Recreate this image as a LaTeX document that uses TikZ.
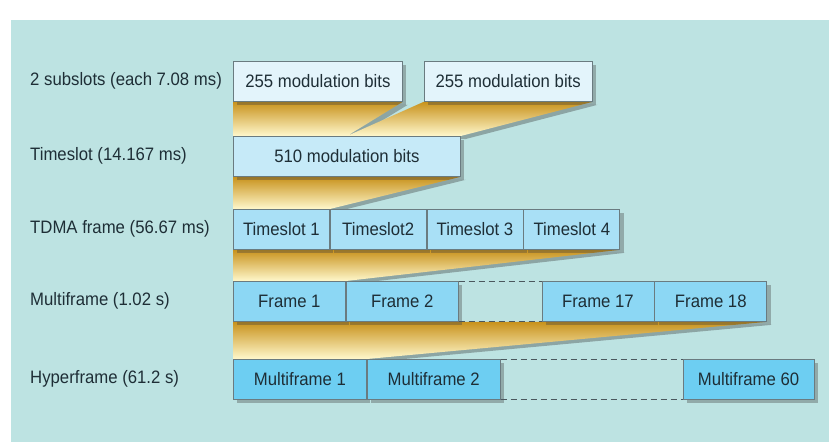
\documentclass[tikz,border=0pt]{standalone}
\usepackage{fontspec}
\setmainfont{Liberation Sans}[FakeStretch=0.93]
\usetikzlibrary{positioning, shadows, calc}
\definecolor{bg}{HTML}{BDE3E2}
\definecolor{edge}{HTML}{6A7B80}
\definecolor{ink}{HTML}{1E2E36}
\definecolor{rowa}{HTML}{E3F4FB}
\definecolor{rowb}{HTML}{C6EAF8}
\definecolor{rowc}{HTML}{A9E0F6}
\definecolor{rowd}{HTML}{8CD7F4}
\definecolor{rowe}{HTML}{6DCEF2}
\definecolor{golda}{HTML}{C8921C}
\definecolor{goldb}{HTML}{FFCC38}
\definecolor{goldc}{HTML}{FFF8CC}
\pgfdeclarelayer{background}
\pgfsetlayers{background,main}
\tikzstyle{block} = [draw=edge, line width=0.8pt, rectangle, inner sep=0pt, minimum height=40pt, text=ink, drop shadow={shadow xshift=4pt, shadow yshift=-4pt, opacity=0.35, fill=black!75}]
\tikzstyle{lbl} = [anchor=west, inner sep=0pt, text=ink]
\tikzstyle{fan} = [top color=golda, middle color=goldb, bottom color=goldc, drop shadow={shadow xshift=5pt, shadow yshift=-3pt, opacity=0.35, fill=black!80}]
\tikzstyle{gap} = [draw=ink!80, line width=0.8pt, dash pattern=on 6pt off 4pt]

\begin{document}
\begin{tikzpicture}[x=1pt, y=-1pt, font=\fontsize{18}{20}\selectfont]
    \useasboundingbox (0,0) rectangle (829,442);
    \node[lbl] (l1) at (30,81) {2 subslots (each 7.08 ms)};
    \node[lbl] (l2) at (30,156) {Timeslot (14.167 ms)};
    \node[lbl] (l3) at (30,229) {TDMA frame (56.67 ms)};
    \node[lbl] (l4) at (30,301) {Multiframe (1.02 s)};
    \node[lbl] (l5) at (30,379) {Hyperframe (61.2 s)};
    \node[block, anchor=north west, fill=rowa, minimum width=169pt] (sub1) at (233,61) {255 modulation bits};
    \node[block, fill=rowa, minimum width=168pt, right=21pt of sub1] (sub2) {255 modulation bits};
    \node[block, anchor=north west, fill=rowb, minimum width=227pt] (slot) at (233,136) {510 modulation bits};
    \node[block, anchor=north west, fill=rowc, minimum width=96pt] (ts1) at (233,209) {Timeslot 1};
    \node[block, fill=rowc, minimum width=96pt, right=0pt of ts1] (ts2) {Timeslot2};
    \node[block, fill=rowc, minimum width=96pt, right=0pt of ts2] (ts3) {Timeslot 3};
    \node[block, fill=rowc, minimum width=96pt, right=0pt of ts3] (ts4) {Timeslot 4};
    \node[block, anchor=north west, fill=rowd, minimum width=112pt] (fr1) at (233,281) {Frame 1};
    \node[block, fill=rowd, minimum width=112pt, right=0pt of fr1] (fr2) {Frame 2};
    \node[block, fill=rowd, minimum width=112pt, right=83pt of fr2] (fr17) {Frame 17};
    \node[block, fill=rowd, minimum width=112pt, right=0pt of fr17] (fr18) {Frame 18};
    \node[block, anchor=north west, fill=rowe, minimum width=133pt] (mf1) at (233,359) {Multiframe 1};
    \node[block, fill=rowe, minimum width=133pt, right=0pt of mf1] (mf2) {Multiframe 2};
    \node[block, fill=rowe, minimum width=131pt, right=182pt of mf2] (mf60) {Multiframe 60};
    \draw[gap] (fr2.north east) -- (fr17.north west);
    \draw[gap] (fr2.south east) -- (fr17.south west);
    \draw[gap] (mf2.north east) -- (mf60.north west);
    \draw[gap] (mf2.south east) -- (mf60.south west);
    \begin{pgfonlayer}{background}
        \fill[bg] (11,20) rectangle (829,442);
        \path[fan] (sub1.south west) -- (sub1.south east) -- ($(slot.north west)!.5!(slot.north east)$) -- (sub2.south west) -- (sub2.south east) -- (slot.north east) -- (slot.north west) -- cycle;
        \path[fan] (slot.south west) -- (slot.south east) -- (ts1.north east) -- (ts1.north west) -- cycle;
        \path[fan] (ts1.south west) -- (ts4.south east) -- (fr1.north east) -- (fr1.north west) -- cycle;
        \path[fan] (fr1.south west) -- (fr18.south east) -- (mf1.north east) -- (mf1.north west) -- cycle;
    \end{pgfonlayer}
\end{tikzpicture}
\end{document}
